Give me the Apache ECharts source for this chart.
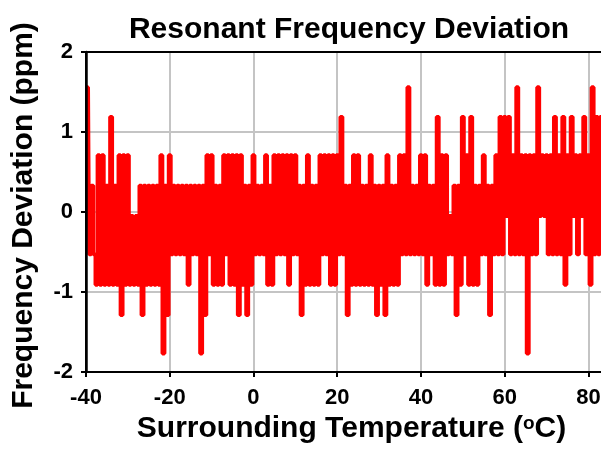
<!DOCTYPE html>
<html><head><meta charset="utf-8">
<script src="https://cdn.jsdelivr.net/npm/echarts@6/dist/echarts.min.js"></script>
<style>html,body{margin:0;padding:0;background:#fff}#c{width:601px;height:450px}</style>
</head><body><div id="c"></div>
<script>
// Temperature sampling (deg C): first sample and spacing of the sweep
const tStart = -40, tStep = 0.5;

// Frequency deviation (ppm), -40 .. -10.5 C
const devA = [1.56,1.56,-0.53,0.33,-0.53,-0.91,0.71,-0.91,0.71,-0.91,
  0.33,-0.91,1.19,-0.91,0.33,-0.91,0.71,-1.29,0.71,-0.91,
  0.71,-0.91,-0.05,-0.91,-0.05,-0.91,0.33,-1.29,0.33,-0.91,
  0.33,-0.91,0.33,-0.91,0.33,-0.91,0.71,-1.77,0.33,-1.29,
  0.71,-0.53,0.33,-0.53,0.33,-0.53,0.33,-0.53,0.33,-0.91,
  0.33,-0.53,0.33,-0.53,0.33,-1.77,0.33,-1.29,0.71,-0.53];
// -10 .. 20.5 C
const devB = [0.71,-0.91,0.33,-0.91,0.33,-0.91,0.71,-0.53,0.71,-0.91,
  0.71,-0.91,0.71,-1.29,0.71,-0.91,0.33,-1.29,0.33,-0.91,
  0.71,-0.53,0.33,-0.53,0.33,-0.53,0.71,-0.91,0.33,-0.91,
  0.71,-0.53,0.71,-0.53,0.71,-0.53,0.71,-0.91,0.71,-0.53,
  0.71,-0.53,0.33,-1.29,0.33,-0.91,0.71,-0.91,0.33,-0.91,
  0.33,-0.91,0.71,-0.53,0.71,-0.53,0.71,-0.91,0.71,-0.91,
  0.71,-0.53];
// 21 .. 50.5 C
const devC = [1.19,-0.53,0.33,-1.29,0.33,-0.91,0.71,-0.91,0.71,-0.91,
  0.33,-0.91,0.33,-0.91,0.71,-0.91,0.33,-1.29,0.33,-0.91,
  0.33,-1.29,0.71,-0.91,0.33,-0.91,0.33,-0.91,0.71,-0.53,
  0.71,-0.53,1.56,-0.53,0.33,-0.53,0.33,-0.53,0.71,-0.53,
  0.71,-0.91,0.33,-0.53,0.33,-0.91,1.19,-0.91,0.71,-0.91,
  0.71,-0.53,-0.05,-0.53,0.33,-1.29,0.33,-0.91,1.19,-0.53];
// 51 .. 83 C
const devD = [0.71,-0.91,1.19,-0.91,0.33,-0.91,0.33,-0.53,0.71,-0.53,
  0.33,-1.29,0.33,-0.53,0.71,-0.53,1.19,-0.53,1.19,-0.05,
  1.19,-0.53,0.71,-0.53,1.56,-0.53,0.71,-0.53,0.71,-1.77,
  0.71,-0.53,0.71,-0.53,1.56,-0.05,0.71,-0.05,0.71,-0.53,
  0.71,-0.53,1.19,-0.53,0.71,-0.53,1.19,-0.91,0.71,-0.53,
  1.19,-0.05,0.71,-0.53,0.71,-0.05,1.19,-0.53,0.71,-0.91,
  1.56,-0.53,1.19,-0.53,1.19];

const xTicks = [-40, -20, 0, 20, 40, 60, 80];
const yTicks = [-2, -1, 0, 1, 2];

const devAll = devA.concat(devB, devC, devD);
const seriesData = devAll.map((v, i) => [tStart + i * tStep, v]);

const FONT = '"Liberation Sans", Arial, Helvetica, sans-serif';
const chart = echarts.init(document.getElementById('c'), null, {renderer: 'canvas'});
chart.setOption({
  animation: false,
  backgroundColor: '#fff',
  title: {
    text: 'Resonant Frequency Deviation',
    left: 344, top: 10, textAlign: 'center',
    textStyle: {fontFamily: FONT, fontSize: 30, fontWeight: 'bold', color: '#000'}
  },
  grid: {left: 86, right: 0, top: 52, bottom: 78, containLabel: false, outerBoundsMode: 'none'},
  xAxis: [{
    type: 'value', min: -40, max: 83, interval: 20, position: 'bottom',
    name: 'Surrounding Temperature ({sup|o}C)', nameLocation: 'middle', nameGap: 37,
    nameTextStyle: {fontFamily: FONT, fontSize: 30, fontWeight: 'bold', color: '#000',
      padding: [0, 0, 0, 16],
      rich: {sup: {fontFamily: FONT, fontSize: 19, fontWeight: 'bold', color: '#000', verticalAlign: 'top', lineHeight: 30}}},
    axisLine: {onZero: false, lineStyle: {color: '#000', width: 2}},
    axisTick: {show: true, length: 5, customValues: xTicks, lineStyle: {color: '#000', width: 2}},
    axisLabel: {customValues: xTicks, margin: 15, fontFamily: FONT, fontSize: 22, fontWeight: 'bold', color: '#000'},
    splitLine: {show: true, lineStyle: {color: '#c4c4c4', width: 2}}
  }, {
    type: 'value', min: -40, max: 83, position: 'top',
    axisLine: {show: true, onZero: false, lineStyle: {color: '#000', width: 2}},
    axisTick: {show: false}, axisLabel: {show: false}, splitLine: {show: false}
  }],
  yAxis: [{
    type: 'value', min: -2, max: 2, interval: 1, position: 'left',
    name: 'Frequency Deviation (ppm)', nameLocation: 'middle', nameGap: 47,
    nameTextStyle: {fontFamily: FONT, fontSize: 30, fontWeight: 'bold', color: '#000', padding: [0, 7, 0, 0]},
    axisLine: {show: true, onZero: false, lineStyle: {color: '#000', width: 2}},
    axisTick: {show: true, length: 5, lineStyle: {color: '#000', width: 2}},
    axisLabel: {margin: 13, fontFamily: FONT, fontSize: 22, fontWeight: 'bold', color: '#000'},
    splitLine: {show: true, lineStyle: {color: '#c4c4c4', width: 2}}
  }, {
    type: 'value', min: -2, max: 2, position: 'left', z: 10,
    axisLine: {show: true, onZero: false, lineStyle: {color: '#000', width: 2.5}},
    axisTick: {show: false}, axisLabel: {show: false}, splitLine: {show: false}
  }],
  series: [{
    type: 'line', xAxisIndex: 0, yAxisIndex: 0,
    data: seriesData, step: 'middle', symbol: 'none', showSymbol: false,
    lineStyle: {color: '#ff0000', width: 3.8}, itemStyle: {color: '#ff0000'},
    clip: true, z: 3
  }]
});
</script></body></html>
